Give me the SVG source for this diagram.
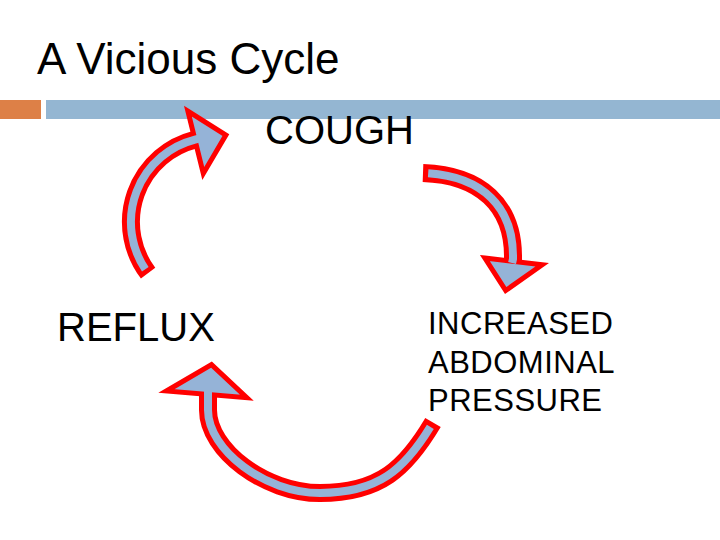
<svg xmlns="http://www.w3.org/2000/svg" width="720" height="540" viewBox="0 0 720 540">
<style>
.t{font-family:"Liberation Sans",Arial,sans-serif;fill:#000}
.p{letter-spacing:0.5px}
.sr{fill:none;stroke:#ff0000;stroke-width:18;stroke-linecap:butt}
.sb{fill:none;stroke:#95b3d7;stroke-width:8;stroke-linecap:butt;stroke-dasharray:0 5 3000}
.hd{fill:#95b3d7;stroke:#ff0000;stroke-width:5;stroke-linejoin:miter}
</style>
<rect x="0" y="0" width="720" height="540" fill="#fff"/>
<g id="header">
<rect x="0" y="100" width="41" height="19" fill="#dd8047"/>
<rect x="46" y="100" width="674" height="19" fill="#94b6d2"/>
<text class="t" x="37" y="74" font-size="44">A Vicious Cycle</text>
</g>
<g id="connectors">
<g id="arrow-reflux-cough">
<path class="sr" d="M148.1,273.2 A85,85 0 0 1 195,139.6 l3.9,-1"/>
<polygon class="hd" points="187.9,111.1 225.9,135.1 203.3,173.5"/>
<path class="sb" d="M148.1,273.2 A85,85 0 0 1 195,139.6 l3.9,-1"/>
</g>
<g id="arrow-cough-pressure">
<path class="sr" d="M423,173 C480,175 514,205 513,259 l-0.9,4"/>
<polygon class="hd" points="484.9,258.1 542.2,264.7 505.7,290.5"/>
<path class="sb" d="M423,173 C480,175 514,205 513,259 l-0.9,4"/>
</g>
<g id="arrow-pressure-reflux">
<path class="sr" d="M433,422.5 C406,468 380,493 320,493 C265,493 208,450 208,410 L208,393 l0,-4"/>
<polygon class="hd" points="166.4,391 211.5,364.6 246.8,397.7"/>
<path class="sb" d="M433,422.5 C406,468 380,493 320,493 C265,493 208,450 208,410 L208,393 l0,-4"/>
</g>
</g>
<g id="node-cough"><text class="t" x="265" y="144" font-size="40">COUGH</text></g>
<g id="node-reflux"><text class="t" x="57" y="341" font-size="40">REFLUX</text></g>
<g id="node-pressure">
<text class="t p" x="428" y="334" font-size="31">INCREASED</text>
<text class="t p" x="428" y="372.5" font-size="31">ABDOMINAL</text>
<text class="t p" x="428" y="411" font-size="31">PRESSURE</text>
</g>
</svg>
